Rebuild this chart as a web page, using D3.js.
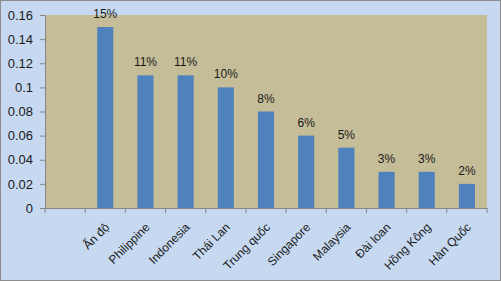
<!DOCTYPE html>
<html><head><meta charset="utf-8">
<script src="https://cdn.jsdelivr.net/npm/d3@7"></script>
<style>body{margin:0;background:#fff}svg{display:block}</style>
</head><body>
<svg id="c" width="501" height="281"></svg>
<script>
const categories = ["", "Ấn độ", "Philippine", "Indonesia", "Thái Lan", "Trung quốc", "Singapore", "Malaysia", "Đài loan", "Hồng Kông", "Hàn Quốc"];
const values = [null, 0.15, 0.11, 0.11, 0.10, 0.08, 0.06, 0.05, 0.03, 0.03, 0.02];
const labels = ["", "15%", "11%", "11%", "10%", "8%", "6%", "5%", "3%", "3%", "2%"];
const yTicks = [0, 0.02, 0.04, 0.06, 0.08, 0.1, 0.12, 0.14, 0.16];

const svg = d3.select("#c");
const W = 501, H = 281;
const m = {left: 45, right: 14, top: 15, bottom: 73};
const font = "'Liberation Sans', Arial, sans-serif";

svg.append("rect").attr("x", 0.5).attr("y", 0.5).attr("width", W - 1).attr("height", H - 1)
  .attr("fill", "#c6d9f1").attr("stroke", "#8c8c8c").attr("stroke-width", 1);

const x = d3.scaleBand().domain(d3.range(categories.length)).range([m.left, W - m.right]).paddingInner(0).paddingOuter(0);
const y = d3.scaleLinear().domain([0, 0.16]).range([H - m.bottom, m.top]);

svg.append("rect").attr("x", m.left).attr("y", m.top).attr("width", W - m.right - m.left).attr("height", y(0) - m.top)
  .attr("fill", "#c4bd97");

const bw = x.bandwidth() * 0.4;
const data = categories.map((c, i) => ({i, c, v: values[i], l: labels[i]})).filter(d => d.v != null);

svg.selectAll(".bar").data(data).enter().append("rect")
  .attr("x", d => x(d.i) + (x.bandwidth() - bw) / 2)
  .attr("y", d => y(d.v)).attr("width", bw).attr("height", d => y(0) - y(d.v))
  .attr("fill", "#4f81bd");

svg.selectAll(".lbl").data(data).enter().append("text")
  .attr("x", d => x(d.i) + x.bandwidth() / 2).attr("y", d => y(d.v) - 9)
  .attr("text-anchor", "middle").attr("font-family", font).attr("font-size", 12).attr("fill", "#1a1a1a")
  .text(d => d.l);

// y axis
const ya = svg.append("g").attr("transform", `translate(${m.left},0)`)
  .call(d3.axisLeft(y).tickValues(yTicks).tickSize(5).tickPadding(7).tickFormat(d => d3.format("")(+d.toFixed(2))));
ya.selectAll("path,line").attr("stroke", "#868686");
ya.selectAll("text").attr("font-family", font).attr("font-size", 13).attr("fill", "#1a1a1a");

// x axis
const xa = svg.append("g").attr("transform", `translate(0,${y(0)})`)
  .call(d3.axisBottom(x).tickSize(0).tickFormat(""));
xa.selectAll("path").attr("stroke", "#868686");
const edges = d3.range(categories.length + 1).map(i => m.left + i * x.step());
xa.selectAll(".tk").data(edges).enter().append("line")
  .attr("x1", d => d).attr("x2", d => d).attr("y1", 0).attr("y2", 5).attr("stroke", "#868686");

svg.selectAll(".xl").data(categories).enter().append("text")
  .attr("transform", (d, i) => `translate(${x(i) + x.bandwidth() / 2 - 1},${y(0) + 14}) rotate(-45)`)
  .attr("text-anchor", "end").attr("dy", "0.7em")
  .attr("font-family", font).attr("font-size", 12).attr("fill", "#1a1a1a")
  .text(d => d);
</script>
</body></html>
